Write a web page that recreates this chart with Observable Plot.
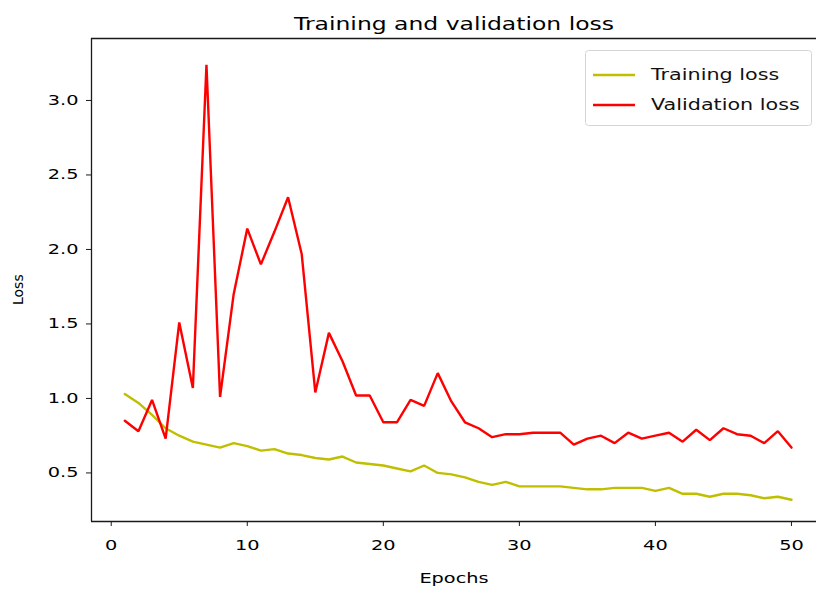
<!DOCTYPE html>
<html><head><meta charset="utf-8">
<script src="https://cdn.jsdelivr.net/npm/d3@7"></script>
<script src="https://cdn.jsdelivr.net/npm/@observablehq/plot@0.6"></script>
<style>
body{margin:0;background:#fff;}
#wrap{position:relative;width:816px;height:593px;overflow:hidden;font-family:"DejaVu Sans",sans-serif;}
#legend{position:absolute;left:585px;top:50px;}
</style></head><body>
<div id="wrap"></div>
<script>
const epochs = d3.range(1, 51);
const trainingLoss = [1.03,0.97,0.89,0.80,0.75,0.71,0.69,0.67,0.70,0.68,
  0.65,0.66,0.63,0.62,0.60,0.59,0.61,0.57,0.56,0.55,
  0.53,0.51,0.55,0.50,0.49,0.47,0.44,0.42,0.44,0.41,
  0.41,0.41,0.41,0.40,0.39,0.39,0.40,0.40,0.40,0.38,
  0.40,0.36,0.36,0.34,0.36,0.36,0.35,0.33,0.34,0.32];
const validationLoss = [0.85,0.78,0.99,0.73,1.51,1.07,3.24,1.01,1.70,2.14,
  1.90,2.12,2.35,1.97,1.04,1.44,1.25,1.02,1.02,0.84,
  0.84,0.99,0.95,1.17,0.98,0.84,0.80,0.74,0.76,0.76,
  0.77,0.77,0.77,0.69,0.73,0.75,0.70,0.77,0.73,0.75,
  0.77,0.71,0.79,0.72,0.80,0.76,0.75,0.70,0.78,0.67];
const seriesNames = ["Training loss", "Validation loss"];
const seriesColors = ["#bfbf00", "#ff0000"];
const xTicks = [0, 10, 20, 30, 40, 50];
const yTicks = [0.5, 1.0, 1.5, 2.0, 2.5, 3.0];
const xDomain = [-1.45, 51.84];
const yDomain = [0.174, 3.416];
const titleText = "Training and validation loss";
const xLabel = "Epochs";
const yLabel = "Loss";

const rows = [];
epochs.forEach((e, i) => {
  rows.push({epoch: e, loss: trainingLoss[i], series: seriesNames[0]});
});
epochs.forEach((e, i) => {
  rows.push({epoch: e, loss: validationLoss[i], series: seriesNames[1]});
});

const axisColor = "#1a1a1a";
const chart = Plot.plot({
  width: 816, height: 593,
  marginLeft: 91, marginRight: 0, marginTop: 38, marginBottom: 72,
  style: {fontFamily: "DejaVu Sans, sans-serif", color: axisColor, background: "#fff"},
  x: {domain: xDomain},
  y: {domain: yDomain},
  color: {domain: seriesNames, range: seriesColors},
  marks: [
    Plot.line(rows, {x: "epoch", y: "loss", stroke: "series", strokeWidth: 2.4, strokeLinejoin: "miter", curve: "linear"}),
    Plot.ruleX([xDomain[0]], {stroke: axisColor, strokeWidth: 1.3}),
    Plot.ruleY(yDomain, {stroke: axisColor, strokeWidth: 1.3}),
    Plot.axisX({ticks: xTicks, tickSize: 5, tickPadding: 14, fontSize: 14, label: null, stroke: axisColor, fill: "#000", tickFormat: d3.format("d")}),
    Plot.axisY({ticks: yTicks, tickSize: 5, tickPadding: 8, fontSize: 14, label: null, stroke: axisColor, fill: "#000", tickFormat: d3.format(".1f")}),
    Plot.text([titleText], {frameAnchor: "top", dy: -21, fontSize: 17, fill: "#000", className: "stretch"}),
    Plot.text([xLabel], {frameAnchor: "bottom", dy: 61, fontSize: 14, fill: "#000", className: "stretch"}),
    Plot.text([yLabel], {frameAnchor: "left", dx: -73, dy: 25, rotate: -90, fontSize: 14, fill: "#000"})
  ]
});
const wrap = document.getElementById("wrap");
wrap.appendChild(chart);

// legend
const ns = "http://www.w3.org/2000/svg";
const leg = document.createElementNS(ns, "svg");
leg.setAttribute("id", "legend");
leg.setAttribute("width", 228);
leg.setAttribute("height", 77);
const box = document.createElementNS(ns, "rect");
box.setAttribute("x", 0.5); box.setAttribute("y", 0.5);
box.setAttribute("width", 226); box.setAttribute("height", 75);
box.setAttribute("rx", 3);
box.setAttribute("fill", "rgba(255,255,255,0.85)");
box.setAttribute("stroke", "#d5d5d5");
leg.appendChild(box);
seriesNames.forEach((name, i) => {
  const cy = 25 + i * 30;
  const ln = document.createElementNS(ns, "line");
  ln.setAttribute("x1", 8); ln.setAttribute("x2", 50);
  ln.setAttribute("y1", cy); ln.setAttribute("y2", cy);
  ln.setAttribute("stroke", seriesColors[i]); ln.setAttribute("stroke-width", 2.4);
  leg.appendChild(ln);
  const t = document.createElementNS(ns, "text");
  t.setAttribute("x", 66); t.setAttribute("y", cy + 5);
  t.setAttribute("font-size", 15);
  t.setAttribute("fill", "#111");
  t.setAttribute("font-family", "DejaVu Sans, sans-serif");
  t.setAttribute("class", "stretch");
  t.textContent = name;
  leg.appendChild(t);
});
wrap.appendChild(leg);

// the reference image is stretched horizontally: widen the glyphs accordingly
const k = 1.38;
function stretch(el) {
  if (el.querySelector && el.querySelector("tspan")) return;
  const len = el.getComputedTextLength();
  if (len > 0) {
    el.setAttribute("textLength", (len * k).toFixed(1));
    el.setAttribute("lengthAdjust", "spacingAndGlyphs");
  }
}
chart.querySelectorAll("g[aria-label='x-axis tick label'] text, g[aria-label='y-axis tick label'] text, .stretch text, text.stretch").forEach(stretch);
leg.querySelectorAll("text").forEach(stretch);
</script>
</body></html>
